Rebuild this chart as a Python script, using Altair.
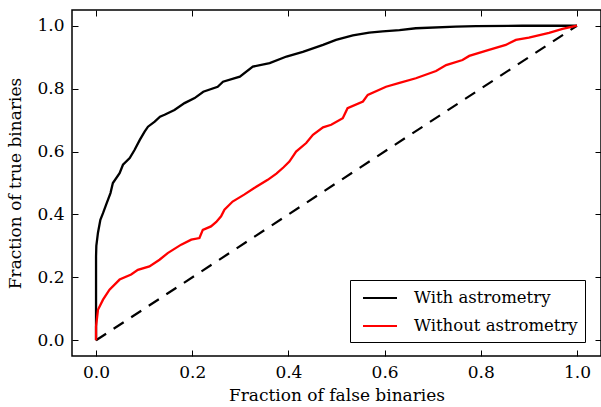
import altair as alt
import pandas as pd

# ROC curve with astrometric information
with_x = [0.0, 0.0, 0.0, 0.0, 0.0006, 0.004, 0.009, 0.0145, 0.021, 0.030, 0.035,
          0.049, 0.056, 0.070, 0.080, 0.091, 0.101, 0.108, 0.122, 0.133, 0.1425,
          0.163, 0.184, 0.205, 0.223, 0.253, 0.264, 0.299, 0.326, 0.361, 0.396,
          0.430, 0.472, 0.499, 0.534, 0.568, 0.596, 0.631, 0.665, 0.748, 0.79,
          0.886, 1.0]
with_y = [0.0, 0.10, 0.20, 0.267, 0.30, 0.342, 0.383, 0.404, 0.431, 0.468, 0.50,
          0.531, 0.558, 0.579, 0.605, 0.637, 0.663, 0.679, 0.695, 0.711, 0.717,
          0.732, 0.754, 0.77, 0.79, 0.806, 0.822, 0.838, 0.870, 0.881, 0.902,
          0.917, 0.939, 0.955, 0.969, 0.978, 0.982, 0.986, 0.992, 0.997, 0.999,
          1.0, 1.0]

# ROC curve from photometry alone
without_x = [0.0, 0.0, 0.004, 0.0145, 0.028, 0.049, 0.073, 0.087, 0.111, 0.132,
             0.149, 0.177, 0.198, 0.215, 0.222, 0.239, 0.25, 0.26, 0.267, 0.284,
             0.308, 0.329, 0.357, 0.375, 0.39, 0.402, 0.416, 0.437, 0.451, 0.472,
             0.489, 0.513, 0.523, 0.555, 0.565, 0.603, 0.631, 0.665, 0.707, 0.728,
             0.762, 0.776, 0.817, 0.852, 0.873, 0.90, 0.942, 0.97, 1.0]
without_y = [0.0, 0.044, 0.097, 0.129, 0.161, 0.193, 0.209, 0.224, 0.235, 0.256,
             0.277, 0.304, 0.32, 0.325, 0.351, 0.362, 0.376, 0.394, 0.415, 0.441,
             0.463, 0.484, 0.51, 0.53, 0.55, 0.568, 0.60, 0.627, 0.653, 0.677,
             0.685, 0.706, 0.738, 0.759, 0.78, 0.806, 0.818, 0.833, 0.856, 0.875,
             0.891, 0.904, 0.923, 0.939, 0.955, 0.962, 0.977, 0.99, 1.0]

series_names = ["With astrometry", "Without astrometry"]
series_colors = ["#000000", "#ff0000"]
ticks = [0.0, 0.2, 0.4, 0.6, 0.8, 1.0]
chance_x = [0.0, 1.0]
chance_y = [0.0, 1.0]

curves = pd.concat([
    pd.DataFrame({"fpr": with_x, "tpr": with_y, "series": series_names[0],
                  "idx": range(len(with_x))}),
    pd.DataFrame({"fpr": without_x, "tpr": without_y, "series": series_names[1],
                  "idx": range(len(without_x))}),
])
chance = pd.DataFrame({"fpr": chance_x, "tpr": chance_y})

FONT = "DejaVu Serif"
FS = 17
xscale = alt.Scale(domain=[-0.05, 1.05], nice=False, zero=False)
yscale = alt.Scale(domain=[-0.05, 1.05], nice=False, zero=False)

# inward ticks: shift each axis into the frame by the tick length
tick_style = dict(values=ticks, tickSize=6, tickWidth=1, tickColor="black",
                  offset=-6, domain=False, grid=False)

bottom_axis = alt.Axis(orient="bottom", format=".1f", labelFont=FONT,
                       labelFontSize=FS, labelColor="black", labelPadding=8,
                       title="Fraction of false binaries", titleFont=FONT,
                       titleFontSize=FS, titleFontWeight="normal",
                       titleColor="black", titlePadding=7, **tick_style)
left_axis = alt.Axis(orient="left", format=".1f", labelFont=FONT,
                     labelFontSize=FS, labelColor="black", labelPadding=8,
                     title="Fraction of true binaries", titleFont=FONT,
                     titleFontSize=FS, titleFontWeight="normal",
                     titleColor="black", titlePadding=12, **tick_style)
top_axis = alt.Axis(orient="top", labels=False, title=None, **tick_style)
right_axis = alt.Axis(orient="right", labels=False, title=None, **tick_style)

legend = alt.Legend(orient="none", legendX=278, legendY=270, title=None,
                    symbolType="M-1.7,0H1.7", symbolSize=400,
                    symbolStrokeWidth=2, symbolOffset=12,
                    labelFont=FONT, labelFontSize=16.5, labelColor="black",
                    labelLimit=300, labelOffset=23, padding=7, rowPadding=8,
                    strokeColor="black", fillColor="white", cornerRadius=0)

diag = alt.Chart(chance).mark_line(
    color="black", strokeWidth=2.2, strokeDash=[12, 9]
).encode(
    x=alt.X("fpr:Q", scale=xscale, axis=top_axis),
    y=alt.Y("tpr:Q", scale=yscale, axis=right_axis),
)

lines = alt.Chart(curves).mark_line(strokeWidth=2.3).encode(
    x=alt.X("fpr:Q", scale=xscale, axis=bottom_axis),
    y=alt.Y("tpr:Q", scale=yscale, axis=left_axis),
    color=alt.Color("series:N",
                    scale=alt.Scale(domain=series_names, range=series_colors),
                    legend=legend),
    order=alt.Order("idx:Q"),
)

chart = alt.layer(diag, lines).resolve_axis(
    x="independent", y="independent"
).properties(
    width=529, height=346,
    padding={"left": 72, "top": 10, "right": 0, "bottom": 51},
    autosize=alt.AutoSizeParams(type="none"),
    background="white",
).configure_view(stroke="black", strokeWidth=1.5)

chart.save("out.html", embed_options={"renderer": "svg", "actions": False})
